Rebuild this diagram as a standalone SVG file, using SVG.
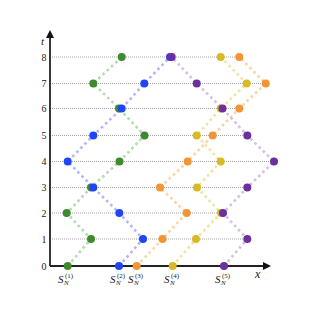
<svg xmlns="http://www.w3.org/2000/svg" width="315" height="315" viewBox="0 0 315 315">
<style>
.grid{stroke:#9a9a9a;stroke-width:0.9;stroke-dasharray:1 1;fill:none}
.axis{stroke:#222;stroke-width:1.8;fill:none}
.conn{fill:none;stroke-width:2.6;stroke-dasharray:2.6 3.2}
.cg{stroke:#b2dcab}.cb{stroke:#b4b4ff}.co{stroke:#fcd3a6}.cy{stroke:#f3e3a0}.cp{stroke:#d4bfe7}
.g{fill:#3d8b2e}.b{fill:#1f45fb}.o{fill:#f39533}.y{fill:#d9ba24}.p{fill:#6c2f9f}
.tick{font-family:"Liberation Serif",serif;font-size:10px;fill:#222;text-anchor:middle}
.lab{font-family:"Liberation Serif",serif;fill:#222;font-style:italic}
.sup{font-family:"Liberation Serif",serif;fill:#222;font-size:7px}
.subn{font-family:"Liberation Serif",serif;fill:#222;font-size:7px;font-style:italic}
</style>
<rect width="315" height="315" fill="#fff"/>
<g id="grid">
<line class="grid" x1="50" y1="239" x2="247.3" y2="239"/>
<line class="grid" x1="50" y1="213" x2="223" y2="213"/>
<line class="grid" x1="50" y1="187.5" x2="247.3" y2="187.5"/>
<line class="grid" x1="50" y1="161.5" x2="274" y2="161.5"/>
<line class="grid" x1="50" y1="135.5" x2="247.3" y2="135.5"/>
<line class="grid" x1="50" y1="108.5" x2="239.3" y2="108.5"/>
<line class="grid" x1="50" y1="83.5" x2="265.7" y2="83.5"/>
<line class="grid" x1="50" y1="57" x2="239.3" y2="57"/>
</g>
<g id="axes">
<line class="axis" x1="50" y1="266" x2="264" y2="266"/>
<polygon points="271,266 263,262 263,270" fill="#111"/>
<line class="axis" x1="50" y1="266" x2="50" y2="37"/>
<polygon points="50,30 46,38 54,38" fill="#111"/>
</g>
<g id="labels">
<text class="tick" x="44" y="269.5">0</text>
<text class="tick" x="44" y="242.5">1</text>
<text class="tick" x="44" y="216.5">2</text>
<text class="tick" x="44" y="191">3</text>
<text class="tick" x="44" y="165">4</text>
<text class="tick" x="44" y="139">5</text>
<text class="tick" x="44" y="112">6</text>
<text class="tick" x="44" y="87">7</text>
<text class="tick" x="44" y="60.5">8</text>
<text class="lab" x="41" y="45" font-size="11">t</text>
<text class="lab" x="255" y="278" font-size="12">x</text>
<text class="lab" x="58" y="283" font-size="11">S</text><text class="sup" x="65" y="278">(1)</text><text class="subn" x="64" y="285">N</text>
<text class="lab" x="110" y="283" font-size="11">S</text><text class="sup" x="117" y="278">(2)</text><text class="subn" x="116" y="285">N</text>
<text class="lab" x="128" y="283" font-size="11">S</text><text class="sup" x="135" y="278">(3)</text><text class="subn" x="134" y="285">N</text>
<text class="lab" x="164" y="283" font-size="11">S</text><text class="sup" x="171" y="278">(4)</text><text class="subn" x="170" y="285">N</text>
<text class="lab" x="215" y="283" font-size="11">S</text><text class="sup" x="222" y="278">(5)</text><text class="subn" x="221" y="285">N</text>
</g>
<g id="connectors">
<polyline class="conn cg" points="67.7,266 91,239 66.7,213 91,187.5 119.5,161.5 144.5,135.5 119,108.5 93.3,83.5 121.7,57"/>
<polyline class="conn cb" points="119,266 143,239 119.3,213 93.3,187.5 67.7,161.5 93.3,135.5 121.7,108.5 144.3,83.5 170,57"/>
<polyline class="conn co" points="136.7,266 162.5,239 186.7,213 160,187.5 187.7,161.5 212.7,135.5 239.3,108.5 265.7,83.5 239.3,57"/>
<polyline class="conn cy" points="172.7,266 196,239 221,213 197,187.5 220.7,161.5 196.7,135.5 220.7,108.5 246.7,83.5 220.7,57"/>
<polyline class="conn cp" points="224,266 247.3,239 223,213 247.3,187.5 274,161.5 247.3,135.5 222.5,108.5 196.7,83.5 171.7,57"/>
</g>
<g id="g0"><circle class="g" cx="67.7" cy="266" r="4"/></g>
<g id="g1"><circle class="g" cx="91" cy="239" r="4"/></g>
<g id="g2"><circle class="g" cx="66.7" cy="213" r="4"/></g>
<g id="g3"><circle class="g" cx="91" cy="187.5" r="4"/></g>
<g id="g4"><circle class="g" cx="119.5" cy="161.5" r="4"/></g>
<g id="g5"><circle class="g" cx="144.5" cy="135.5" r="4"/></g>
<g id="g6"><circle class="g" cx="119" cy="108.5" r="4"/></g>
<g id="g7"><circle class="g" cx="93.3" cy="83.5" r="4"/></g>
<g id="g8"><circle class="g" cx="121.7" cy="57" r="4"/></g>
<g id="b0"><circle class="b" cx="119" cy="266" r="4"/></g>
<g id="b1"><circle class="b" cx="143" cy="239" r="4"/></g>
<g id="b2"><circle class="b" cx="119.3" cy="213" r="4"/></g>
<g id="b3"><circle class="b" cx="93.3" cy="187.5" r="4"/></g>
<g id="b4"><circle class="b" cx="67.7" cy="161.5" r="4"/></g>
<g id="b5"><circle class="b" cx="93.3" cy="135.5" r="4"/></g>
<g id="b6"><circle class="b" cx="121.7" cy="108.5" r="4"/></g>
<g id="b7"><circle class="b" cx="144.3" cy="83.5" r="4"/></g>
<g id="b8"><circle class="b" cx="170" cy="57" r="4"/></g>
<g id="o0"><circle class="o" cx="136.7" cy="266" r="4"/></g>
<g id="o1"><circle class="o" cx="162.5" cy="239" r="4"/></g>
<g id="o2"><circle class="o" cx="186.7" cy="213" r="4"/></g>
<g id="o3"><circle class="o" cx="160" cy="187.5" r="4"/></g>
<g id="o4"><circle class="o" cx="187.7" cy="161.5" r="4"/></g>
<g id="o5"><circle class="o" cx="212.7" cy="135.5" r="4"/></g>
<g id="o6"><circle class="o" cx="239.3" cy="108.5" r="4"/></g>
<g id="o7"><circle class="o" cx="265.7" cy="83.5" r="4"/></g>
<g id="o8"><circle class="o" cx="239.3" cy="57" r="4"/></g>
<g id="y0"><circle class="y" cx="172.7" cy="266" r="4"/></g>
<g id="y1"><circle class="y" cx="196" cy="239" r="4"/></g>
<g id="y2"><circle class="y" cx="221" cy="213" r="4"/></g>
<g id="y3"><circle class="y" cx="197" cy="187.5" r="4"/></g>
<g id="y4"><circle class="y" cx="220.7" cy="161.5" r="4"/></g>
<g id="y5"><circle class="y" cx="196.7" cy="135.5" r="4"/></g>
<g id="y6"><circle class="y" cx="220.7" cy="108.5" r="4"/></g>
<g id="y7"><circle class="y" cx="246.7" cy="83.5" r="4"/></g>
<g id="y8"><circle class="y" cx="220.7" cy="57" r="4"/></g>
<g id="p0"><circle class="p" cx="224" cy="266" r="4"/></g>
<g id="p1"><circle class="p" cx="247.3" cy="239" r="4"/></g>
<g id="p2"><circle class="p" cx="223" cy="213" r="4"/></g>
<g id="p3"><circle class="p" cx="247.3" cy="187.5" r="4"/></g>
<g id="p4"><circle class="p" cx="274" cy="161.5" r="4"/></g>
<g id="p5"><circle class="p" cx="247.3" cy="135.5" r="4"/></g>
<g id="p6"><circle class="p" cx="222.5" cy="108.5" r="4"/></g>
<g id="p7"><circle class="p" cx="196.7" cy="83.5" r="4"/></g>
<g id="p8"><circle class="p" cx="171.7" cy="57" r="4"/></g>
</svg>
